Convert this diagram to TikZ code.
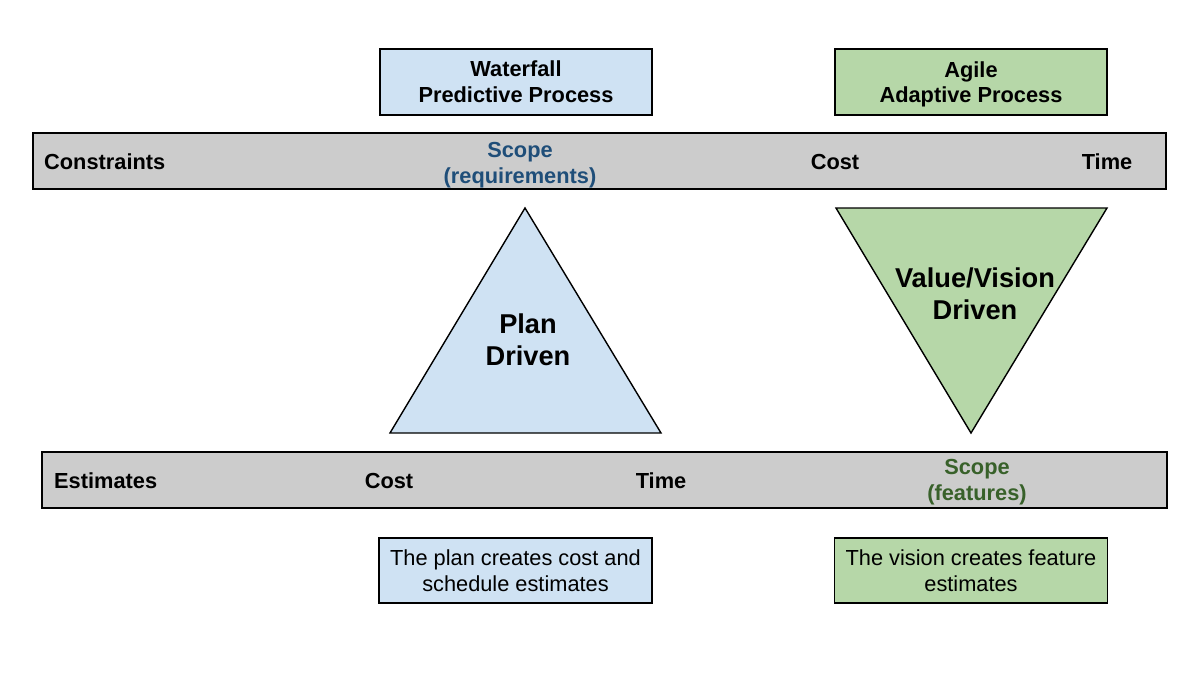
\documentclass[tikz,border=0pt]{standalone}
\usepackage{fontspec}
\setmainfont{Liberation Sans}
\usetikzlibrary{positioning}
\definecolor{wfblue}{HTML}{CFE2F3}
\definecolor{aggreen}{HTML}{B6D7A8}
\definecolor{bandgray}{HTML}{CCCCCC}
\definecolor{scopeblue}{HTML}{1F4E79}
\definecolor{scopegreen}{HTML}{38612A}

\begin{document}
\begin{tikzpicture}[x=0.02cm,y=-0.02cm,
  procbox/.style={draw,thick,minimum width=5.44cm,minimum height=1.32cm,align=center,font=\fontsize{12.4}{14.8}\selectfont\bfseries},
  notebox/.style={draw,thick,minimum width=5.46cm,minimum height=1.3cm,align=center,font=\fontsize{12.4}{14.5}\selectfont},
  band/.style={draw,thick,fill=bandgray,minimum height=1.12cm},
  lbl/.style={align=center,font=\fontsize{12.4}{14.5}\selectfont\bfseries},
  big/.style={align=center,font=\fontsize{15.5}{18.5}\selectfont\bfseries}]
\useasboundingbox (0,0) rectangle (1190,676);
% constraints band
\node (0) [band,minimum width=22.66cm] at (599.5,161) {};
\node (1) [lbl,anchor=west] at (38,162) {Constraints};
\node (2) [lbl,text=scopeblue] at (520,165) {Scope\\(requirements)};
\node (3) [lbl] at (835,162) {Cost};
\node (4) [lbl] at (1107,162) {Time};
% estimates band
\node (5) [band,minimum width=22.5cm] at (604.5,480) {};
\node (6) [lbl,anchor=west] at (48,481) {Estimates};
\node (7) [lbl] at (389,481) {Cost};
\node (8) [lbl] at (661,481) {Time};
\node (9) [lbl,text=scopegreen] at (977,482) {Scope\\(features)};
% process boxes
\node (10) [procbox,fill=wfblue] at (516,82) {Waterfall\\Predictive Process};
\node (11) [procbox,fill=aggreen] at (971,82) {};
\node (11a) [lbl] at (971,84.5) {Agile\\Adaptive Process};
% triangles
\draw[thick,fill=wfblue] (525,208) -- (661,433) -- (390,433) -- cycle;
\draw[thick,fill=aggreen] (836,208) -- (1107,208) -- (971,433) -- cycle;
\node (12) [big] at (528,340) {Plan\\Driven};
\node (13) [big] at (975,294) {Value/Vision\\Driven};
% notes
\node (14) [notebox,fill=wfblue] at (515.5,570.5) {The plan creates cost and\\schedule estimates};
\node (15) [notebox,fill=aggreen] at (971,570.5) {The vision creates feature\\estimates};
\end{tikzpicture}
\end{document}
